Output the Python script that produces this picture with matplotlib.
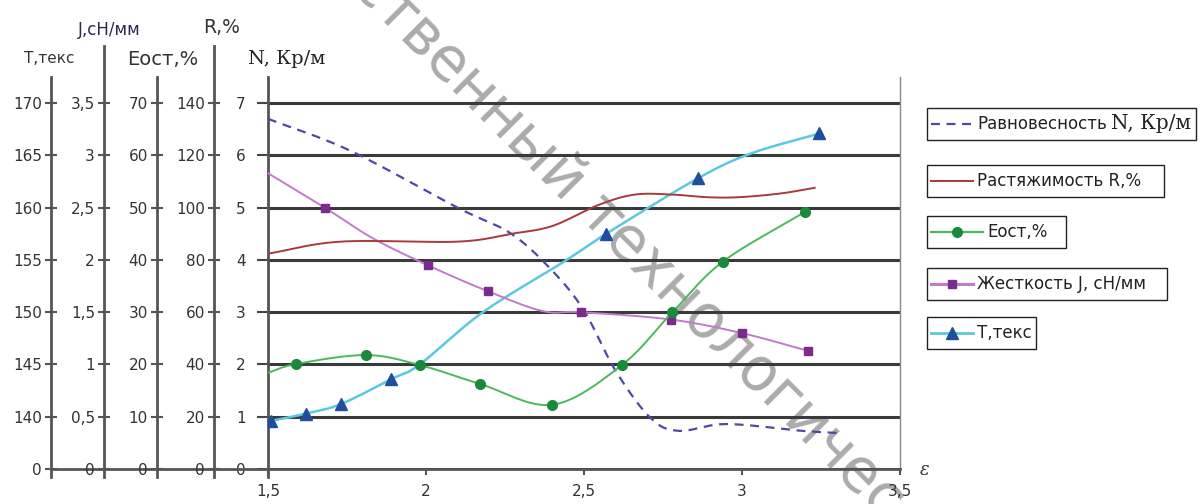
import numpy as np
import matplotlib
matplotlib.use("Agg")
import matplotlib.pyplot as plt
from matplotlib.lines import Line2D
from matplotlib.offsetbox import AnchoredOffsetbox, DrawingArea, HPacker, TextArea

plt.rcParams['font.family'] = ['DejaVu Sans']

# data (x = ε)
n_x = [1.5, 1.76, 2.10, 2.27, 2.40, 2.50, 2.60, 2.71, 2.80, 2.95, 3.19, 3.30]
n_val = [6.70, 6.09, 5.0, 4.5, 3.79, 3.03, 1.88, 0.98, 0.73, 0.86, 0.73, 0.69]

r_x = [1.5, 1.73, 2.10, 2.27, 2.40, 2.545, 2.66, 2.78, 2.89, 2.99, 3.12, 3.23]
r_val = [82.4, 87, 87, 90, 93, 101, 105, 105, 104, 104, 105.4, 107.6]

e_x = [1.5, 1.59, 1.81, 1.98, 2.17, 2.40, 2.62, 2.78, 2.94, 3.20]
e_val = [18.4, 20.1, 21.8, 19.9, 16.3, 12.3, 19.9, 30, 39.7, 49.2]
e_marks = [1, 2, 3, 4, 5, 6, 7, 8, 9]

j_x = [1.5, 1.68, 1.83, 2.005, 2.196, 2.37, 2.49, 2.775, 3.0, 3.21]
j_val = [2.83, 2.5, 2.21, 1.95, 1.70, 1.51, 1.5, 1.43, 1.30, 1.13]
j_marks = [1, 3, 4, 6, 7, 8, 9]

t_x = [1.51, 1.62, 1.73, 1.89, 1.98, 2.18, 2.44, 2.57, 2.86, 3.03, 3.245]
t_val = [139.6, 140.3, 141.2, 143.6, 145, 150, 154.9, 157.5, 162.8, 165.2, 167.1]
t_marks = [0, 1, 2, 3, 7, 8, 10]

x_ticks = [1.5, 2, 2.5, 3, 3.5]


# smoothed line like the spreadsheet draws it (Catmull-Rom through the points)
def smooth(x, y, steps=20):
    x = np.asarray(x, float)
    y = np.asarray(y, float)
    px = np.concatenate([[2 * x[0] - x[1]], x, [2 * x[-1] - x[-2]]])
    py = np.concatenate([[2 * y[0] - y[1]], y, [2 * y[-1] - y[-2]]])
    t = np.linspace(0, 1, steps, endpoint=False)
    xs, ys = [], []
    for i in range(1, len(px) - 2):
        for p, out in ((px, xs), (py, ys)):
            p0, p1, p2, p3 = p[i - 1], p[i], p[i + 1], p[i + 2]
            out.extend(0.5 * (2 * p1 + (-p0 + p2) * t + (2 * p0 - 5 * p1 + 4 * p2 - p3) * t ** 2
                              + (-p0 + 3 * p1 - 3 * p2 + p3) * t ** 3))
    xs.append(x[-1])
    ys.append(y[-1])
    return xs, ys


def comma(v):
    return ('%g' % v).replace('.', ',')


W, H = 1204, 504
fig = plt.figure(figsize=(W / 100, H / 100), dpi=100, facecolor='white')
x0, x1 = 268, 900
y_bot, y_top = 469, 77
ax = fig.add_axes([x0 / W, 1 - y_bot / H, (x1 - x0) / W, (y_bot - y_top) / H])
ax.patch.set_visible(False)

LEVELS = 7.5
ax.set_xlim(1.5, 3.5)
ax.set_ylim(0, LEVELS)

# extra y axes: (base, units per grid level, spine x pixel, spine top level)
axes_spec = {
    'T': (135, 5, 51, 7.5),
    'J': (0, 0.5, 104, 8.1),
    'E': (0, 10, 157, 7.5),
    'R': (0, 20, 214, 8.1),
}
tw = {}
for key, (base, step, px, top) in axes_spec.items():
    a = ax.twinx()
    a.set_ylim(base, base + step * LEVELS)
    for s in ['right', 'top', 'bottom']:
        a.spines[s].set_visible(False)
    a.spines['left'].set_visible(True)
    a.spines['left'].set_position(('axes', (px - x0) / (x1 - x0)))
    a.spines['left'].set_bounds(base - step * 0.15, base + step * top)
    a.spines['left'].set_color('#555555')
    a.spines['left'].set_linewidth(2)
    a.yaxis.set_ticks_position('left')
    ticks = [base + step * k for k in range(8)]
    a.set_yticks(ticks)
    a.set_yticklabels(['0'] + [comma(v) for v in ticks[1:]])
    a.tick_params(axis='y', direction='inout', length=9, width=1.5, color='#555555',
                  labelsize=11, labelcolor='#333333', pad=2)
    tw[key] = a

# main axis N
ax.set_yticks(range(8))
ax.set_yticklabels([str(k) for k in range(8)])
ax.tick_params(axis='y', direction='out', length=8, width=1.5, color='#444444',
               labelsize=11, labelcolor='#333333', pad=8)
ax.grid(axis='y', color='#3a3a3a', linewidth=2.2)
ax.set_axisbelow(True)
ax.spines['top'].set_visible(False)
ax.spines['left'].set_bounds(-0.15, LEVELS)
ax.spines['left'].set_color('#555555')
ax.spines['left'].set_linewidth(2)
ax.spines['right'].set_color('#888888')
ax.spines['right'].set_linewidth(1)
ax.spines['bottom'].set_bounds(1.5 - (x0 - 51) / (x1 - x0) * 2, 3.5)
ax.spines['bottom'].set_color('#555555')
ax.spines['bottom'].set_linewidth(2)
ax.set_xticks(x_ticks)
ax.set_xticklabels([comma(v) for v in x_ticks])
ax.tick_params(axis='x', direction='out', length=4, width=1.5, color='#555555',
               labelsize=11, labelcolor='#333333', pad=7)

# series
c_n = '#4a4aa8'
c_r = '#a83a3a'
c_e_line, c_e_mark = '#4cb85c', '#1a8a3a'
c_j_line, c_j_mark = '#c27acb', '#7b2a8e'
c_t_line, c_t_mark = '#5cc8e0', '#1f4e9a'

sx, sy = smooth(n_x, n_val)
ax.plot(sx, sy, color=c_n, lw=1.6, ls=(0, (4, 3)))
sx, sy = smooth(r_x, r_val)
tw['R'].plot(sx, sy, color=c_r, lw=1.4)
sx, sy = smooth(e_x, e_val)
tw['E'].plot(sx, sy, color=c_e_line, lw=1.4)
tw['E'].plot([e_x[i] for i in e_marks], [e_val[i] for i in e_marks], 'o', ms=7, color=c_e_mark)
sx, sy = smooth(j_x, j_val)
tw['J'].plot(sx, sy, color=c_j_line, lw=1.4)
tw['J'].plot([j_x[i] for i in j_marks], [j_val[i] for i in j_marks], 's', ms=6, color=c_j_mark)
sx, sy = smooth(t_x, t_val)
tw['T'].plot(sx, sy, color=c_t_line, lw=1.8)
tw['T'].plot([t_x[i] for i in t_marks], [t_val[i] for i in t_marks], '^', ms=8, color=c_t_mark)

# axis titles
fig.text(49 / W, 1 - 63 / H, 'T,текс', ha='center', va='baseline', fontsize=11, color='#333333')
fig.text(109 / W, 1 - 35 / H, 'J,cH/мм', ha='center', va='baseline', fontsize=12, color='#2a2a50')
fig.text(163 / W, 1 - 65 / H, 'Еост,%', ha='center', va='baseline', fontsize=14, color='#333333')
fig.text(222 / W, 1 - 33 / H, 'R,%', ha='center', va='baseline', fontsize=13.5, color='#333333')
fig.text(287 / W, 1 - 64 / H, 'N, Кр/м', ha='center', va='baseline', fontsize=14,
         family='DejaVu Serif', color='#222222')
fig.text(925 / W, 1 - 470 / H, 'ε', ha='center', va='center', fontsize=13, style='italic',
         family='DejaVu Serif', color='#333333')

# legends, one framed box each (handle width and extra right room in pixels)
entries = [
    (dict(color=c_n, lw=1.6, ls=(0, (4, 3))), None, ['Равновесность', 'N, Кр/м'], 108, 42, 0),
    (dict(color=c_r, lw=1.4), None, ['Растяжимость R,%'], 165, 42, 14),
    (dict(color=c_e_line, lw=1.6), dict(marker='o', ms=7, color=c_e_mark), ['Еост,%'], 216, 52, 10),
    (dict(color=c_j_line, lw=2.2), dict(marker='s', ms=6, color=c_j_mark), ['Жесткость J, сН/мм'], 268, 42, 12),
    (dict(color=c_t_line, lw=2), dict(marker='^', ms=8, color=c_t_mark), ['Т,текс'], 317, 42, 0),
]
for line_kw, mark_kw, texts, top, hw, extra in entries:
    w_pt, h_pt = hw * 0.72, 17
    da = DrawingArea(w_pt, h_pt, 0, 0)
    da.add_artist(Line2D([0, w_pt], [h_pt / 2, h_pt / 2], **line_kw))
    if mark_kw:
        da.add_artist(Line2D([w_pt / 2], [h_pt / 2], ls='none', **mark_kw))
    parts = [da, TextArea(texts[0], textprops=dict(fontsize=12, color='#222222'))]
    if len(texts) > 1:
        parts.append(TextArea(texts[1], textprops=dict(fontsize=14.5, family='DejaVu Serif',
                                                         color='#222222')))
    if extra:
        parts.append(DrawingArea(extra * 0.72, 1, 0, 0))
    box = AnchoredOffsetbox(loc='upper left', child=HPacker(children=parts, sep=3, align='center'),
                            pad=0.3, borderpad=0, frameon=True,
                            bbox_to_anchor=(927 / W, 1 - top / H), bbox_transform=fig.transFigure)
    box.patch.set_edgecolor('#222222')
    box.patch.set_linewidth(1)
    fig.add_artist(box)

# watermark, under the chart lines
fig.text(628 / W, 1 - 243 / H, 'ственный технологичес', rotation=-45, ha='center', va='center',
         fontsize=43, color='#ababab', rotation_mode='anchor', zorder=-1)

fig.savefig('out.png', dpi=100, facecolor='white')
